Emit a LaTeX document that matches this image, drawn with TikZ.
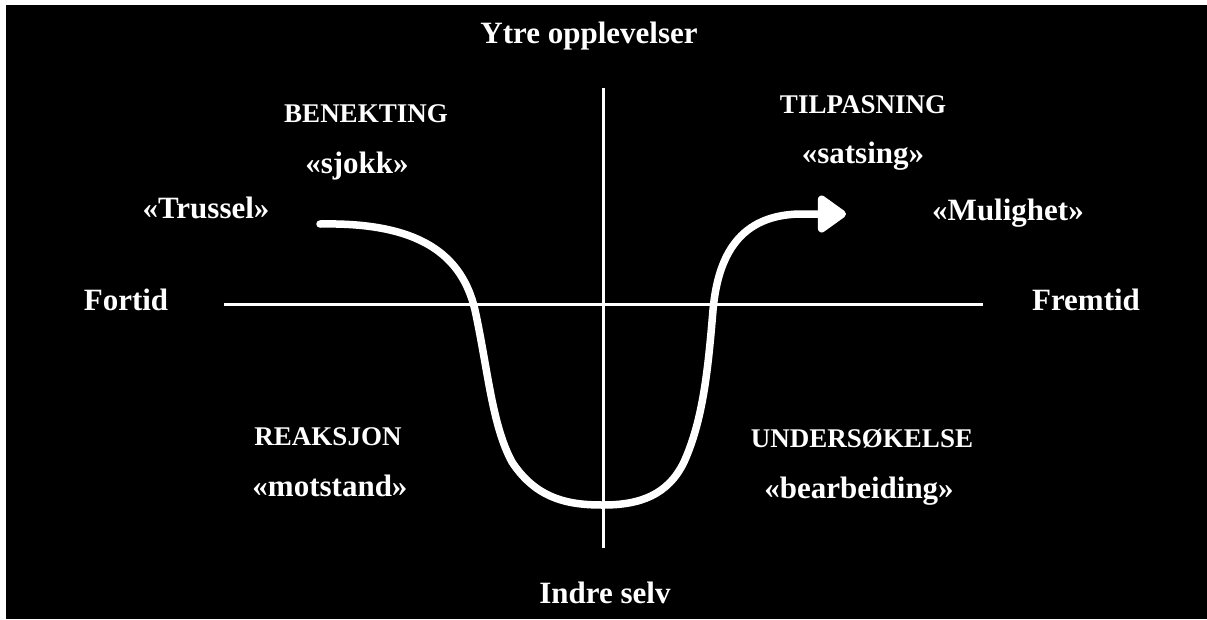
\documentclass[tikz,border=0pt]{standalone}
\usepackage{fontspec}
\setmainfont{Liberation Serif}
\usetikzlibrary{arrows.meta}
\begin{document}
\begin{tikzpicture}[x=1pt,y=-1pt,
  lbl/.style={text=white,font=\bfseries\fontsize{31}{31}\selectfont,anchor=base,inner sep=0pt},
  caplbl/.style={text=white,font=\bfseries\fontsize{27}{27}\selectfont,anchor=base,inner sep=0pt},
  axisline/.style={draw=white,line width=3pt},
  flow/.style={draw=white,line width=7.5pt,line cap=round,-{Triangle[length=31pt,width=42pt,round]}}]
\useasboundingbox (0,0) rectangle (1207,619);
\fill[white] (0,0) rectangle (1207,619);
\fill[black] (6,5) rectangle (1207,619);

% axes
\coordinate (xl) at (224,304);
\coordinate (xr) at (983,304);
\coordinate (yt) at (603,88);
\coordinate (yb) at (603,548);
\draw[axisline] (xl) -- (xr);
\draw[axisline] (yt) -- (yb);

% curve
\coordinate (cstart) at (320,224);
\coordinate (cend) at (846,214);
\draw[flow] (cstart) .. controls (420,222) and (462,255) .. (475,310)
  .. controls (488,370) and (492,425) .. (512,462)
  .. controls (537,500) and (570,505) .. (603,505)
  .. controls (640,505) and (668,495) .. (684,462)
  .. controls (703,420) and (708,370) .. (713,310)
  .. controls (718,255) and (740,215) .. (800,214)
  -- (cend);

% labels
\node[lbl] (ytre) at (589,43) {Ytre opplevelser};
\node[lbl] (indre) at (605,603) {Indre selv};
\node[lbl] (fortid) at (126,310) {Fortid};
\node[lbl] (fremtid) at (1086,310) {Fremtid};
\node[caplbl] (benekting) at (366,122) {BENEKTING};
\node[lbl] (sjokk) at (357,173) {«sjokk»};
\node[lbl] (trussel) at (206,218) {«Trussel»};
\node[caplbl] (tilpasning) at (863,113) {TILPASNING};
\node[lbl] (satsing) at (863,163) {«satsing»};
\node[lbl] (mulighet) at (1008,220) {«Mulighet»};
\node[caplbl] (reaksjon) at (328,445) {REAKSJON};
\node[lbl] (motstand) at (330,496) {«motstand»};
\node[caplbl] (undersok) at (862,447) {UNDERSØKELSE};
\node[lbl] (bearbeiding) at (859,498) {«bearbeiding»};
\end{tikzpicture}
\end{document}
